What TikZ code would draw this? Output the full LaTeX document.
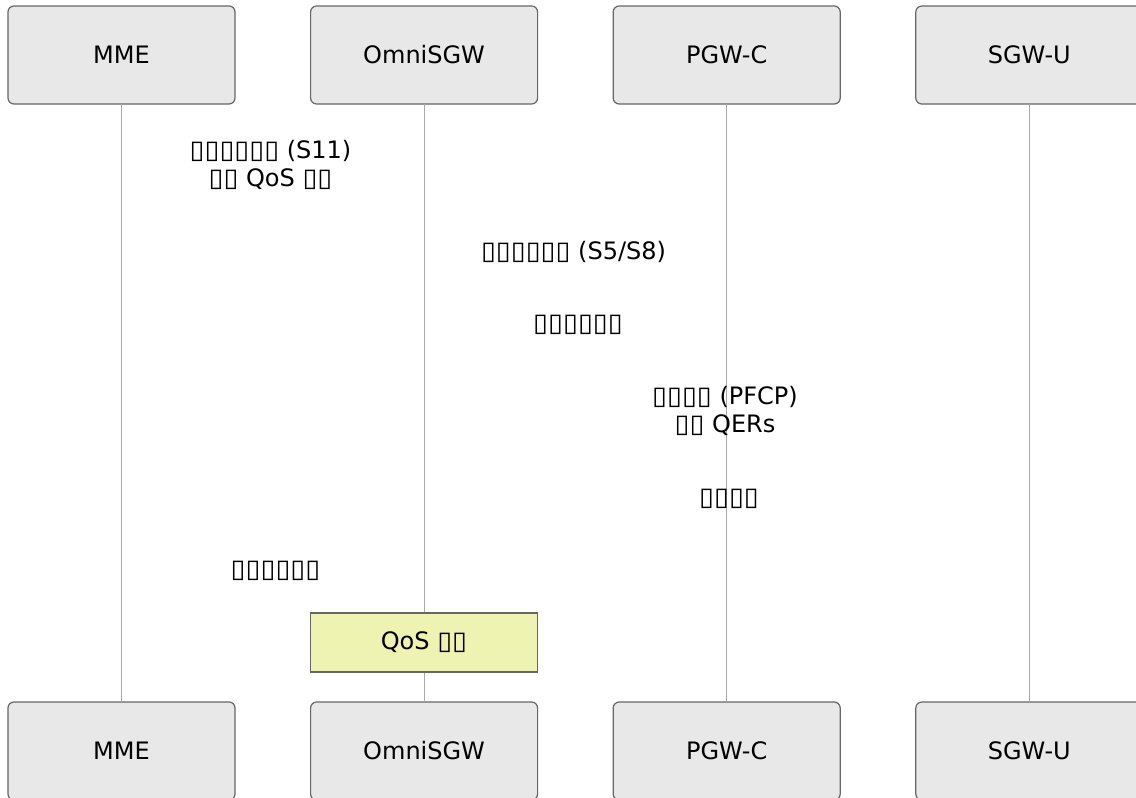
\documentclass[tikz,border=0pt]{standalone}
\usepackage{fontspec}
\usepackage{graphicx}
\setmainfont{DejaVu Sans}
\usetikzlibrary{positioning}
\definecolor{cActor}{HTML}{E8E8E8}
\definecolor{cEdge}{HTML}{666666}
\definecolor{cLife}{HTML}{A8A8A8}
\definecolor{cNote}{HTML}{EEF3B1}
\tikzset{
  actor/.style={rounded corners=3pt, draw=cEdge, fill=cActor, line width=0.6pt,
                minimum width=113.5pt, minimum height=49pt, inner sep=0pt,
                outer sep=0pt, font=\fontsize{12}{14}\selectfont},
  note/.style={draw=cEdge, fill=cNote, line width=0.6pt, minimum width=113.5pt,
               minimum height=29.5pt, inner sep=0pt, outer sep=0pt,
               font=\fontsize{12}{14}\selectfont},
  life/.style={draw=cLife, line width=0.5pt},
  msg/.style={align=center, inner sep=1pt, font=\fontsize{12}{14}\selectfont},
}
% one missing glyph, as the picture prints it
\newcommand{\tf}{\scalebox{1.13}[1.06]{▯}}

\begin{document}
\begin{tikzpicture}[x=0.5pt, y=-0.5pt, node distance=37.8pt]
  \useasboundingbox (0,0) rectangle (1136,798);

  % participants
  \node[actor] (mme) at (121.5,55) {MME};
  \node[actor, right=of mme] (sgw) {OmniSGW};
  \node[actor, right=of sgw] (pgwc) {PGW-C};
  \node[actor, right=of pgwc] (sgwu) {SGW-U};

  \node[actor, below=299pt of mme] (mmeB) {MME};
  \node[actor, below=299pt of sgw] (sgwB) {OmniSGW};
  \node[actor, below=299pt of pgwc] (pgwcB) {PGW-C};
  \node[actor, below=299pt of sgwu] (sgwuB) {SGW-U};

  % lifelines
  \draw[life] (mme) -- (mmeB);
  \draw[life] (sgw) -- (sgwB);
  \draw[life] (pgwc) -- (pgwcB);
  \draw[life] (sgwu) -- (sgwuB);

  % messages
  \node[msg] (m1) at (270.5,165) {\tf\tf\tf\tf\tf\tf{} (S11)\\\tf\tf{} QoS \tf\tf};
  \node[msg] (m2) at (573.5,252) {\tf\tf\tf\tf\tf\tf{} (S5/S8)};
  \node[msg] (m3) at (578,325) {\tf\tf\tf\tf\tf\tf};
  \node[msg] (m4) at (725,411) {\tf\tf\tf\tf{} (PFCP)\\\tf\tf{} QERs};
  \node[msg] (m5) at (729,499) {\tf\tf\tf\tf};
  \node[msg] (m6) at (275.5,571) {\tf\tf\tf\tf\tf\tf};

  \node[note] (qos) at (424,642.5) {QoS \tf\tf};
\end{tikzpicture}
\end{document}
